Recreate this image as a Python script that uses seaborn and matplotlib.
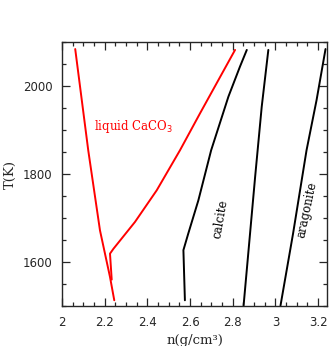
import matplotlib
matplotlib.use("Agg")
import matplotlib.pyplot as plt
import seaborn as sns
import pandas as pd
from matplotlib.ticker import MultipleLocator

# liquid CaCO3 (two branches)
liq1_n = [2.062, 2.123, 2.178, 2.225, 2.245]
liq1_T = [2084, 1854, 1672, 1566, 1513]
liq2_n = [2.233, 2.225, 2.241, 2.342, 2.444, 2.553, 2.647, 2.811]
liq2_T = [1560, 1619, 1630, 1691, 1763, 1854, 1938, 2082]
# calcite curves
cal1_n = [2.576, 2.569, 2.592, 2.639, 2.699, 2.780, 2.834, 2.866]
cal1_T = [1513, 1627, 1665, 1740, 1854, 1976, 2044, 2082]
cal2_n = [2.851, 2.905, 2.936, 2.967]
cal2_T = [1501, 1793, 1953, 2082]
# aragonite
ara_n = [3.024, 3.083, 3.146, 3.193, 3.235]
ara_T = [1501, 1665, 1854, 1968, 2084]

xticks = [2, 2.2, 2.4, 2.6, 2.8, 3, 3.2]
xticklabels = ["2", "2.2", "2.4", "2.6", "2.8", "3", "3.2"]
yticks = [1600, 1800, 2000]

sns.set_style("ticks")
plt.rcParams['font.family'] = ['DejaVu Sans']

fig = plt.figure(figsize=(3.29, 3.46), dpi=100)
ax = fig.add_axes([0.1884, 0.1156, 0.8056, 0.763])

def draw(n, T, color):
    df = pd.DataFrame({"n": n, "T": T})
    sns.lineplot(data=df, x="n", y="T", sort=False, estimator=None,
                 color=color, lw=1.4, ax=ax)

draw(liq1_n, liq1_T, "#ff0000")
draw(liq2_n, liq2_T, "#ff0000")
draw(cal1_n, cal1_T, "black")
draw(cal2_n, cal2_T, "black")
draw(ara_n, ara_T, "black")

ax.set_xlim(2.0, 3.242)
ax.set_ylim(1500, 2100)
ax.set_xticks(xticks)
ax.set_xticklabels(xticklabels)
ax.set_yticks(yticks)
ax.xaxis.set_minor_locator(MultipleLocator(0.05))
ax.yaxis.set_minor_locator(MultipleLocator(50))
ax.tick_params(which='both', direction='in', top=True, right=True, labelsize=8.5, width=0.9)
ax.tick_params(which='major', length=6, pad=7)
ax.tick_params(which='minor', length=3)
for s in ax.spines.values():
    s.set_linewidth(1.0)

ax.set_xlabel("n(g/cm³)", family="DejaVu Serif", fontsize=9.5, labelpad=4)
ax.set_ylabel("T(K)", family="DejaVu Serif", fontsize=9.5, labelpad=4)

ax.text(2.15, 1907, "liquid CaCO$_3$", color="#ff0000", family="DejaVu Serif",
        fontsize=8.5, ha="left", va="center")
ax.text(2.741, 1697, "calcite", color="black", family="DejaVu Serif",
        fontsize=8.5, rotation=80, ha="center", va="center")
ax.text(3.15, 1718, "aragonite", color="black", family="DejaVu Serif",
        fontsize=8.5, rotation=78, ha="center", va="center")

fig.savefig("out.png", dpi=100)
